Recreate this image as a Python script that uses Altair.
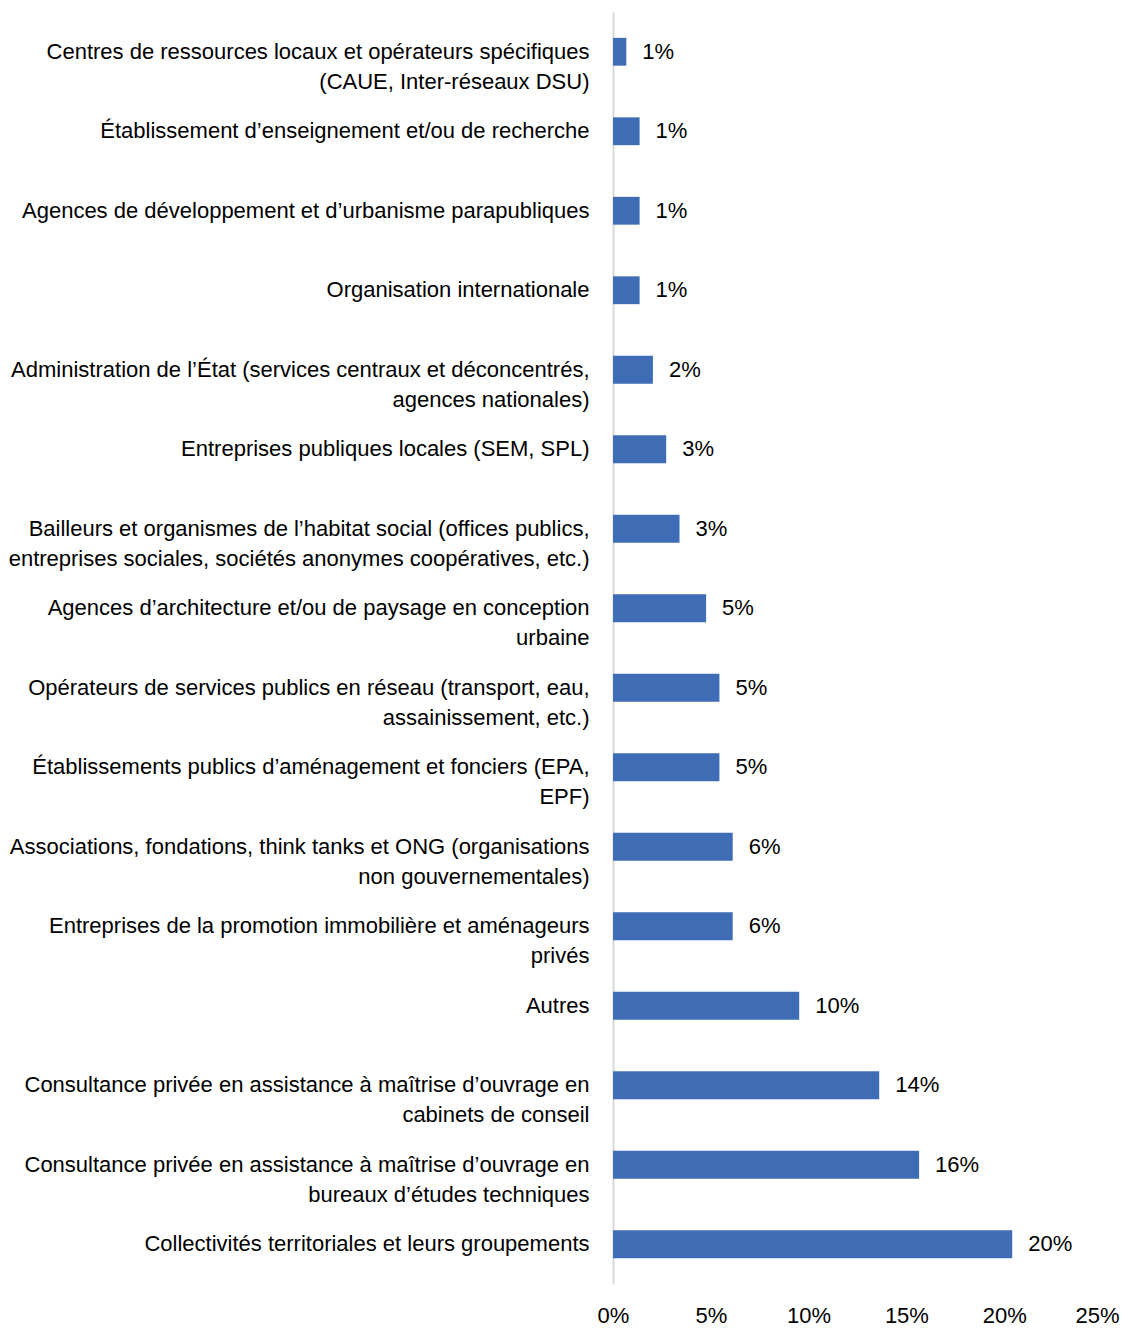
import altair as alt
import pandas as pd

categories = [
    ["Centres de ressources locaux et opérateurs spécifiques", "(CAUE, Inter-réseaux DSU)"],
    ["Établissement d’enseignement et/ou de recherche"],
    ["Agences de développement et d’urbanisme parapubliques"],
    ["Organisation internationale"],
    ["Administration de l’État (services centraux et déconcentrés,", "agences nationales)"],
    ["Entreprises publiques locales (SEM, SPL)"],
    ["Bailleurs et organismes de l’habitat social (offices publics,", "entreprises sociales, sociétés anonymes coopératives, etc.)"],
    ["Agences d’architecture et/ou de paysage en conception", "urbaine"],
    ["Opérateurs de services publics en réseau (transport, eau,", "assainissement, etc.)"],
    ["Établissements publics d’aménagement et fonciers (EPA,", "EPF)"],
    ["Associations, fondations, think tanks et ONG (organisations", "non gouvernementales)"],
    ["Entreprises de la promotion immobilière et aménageurs", "privés"],
    ["Autres"],
    ["Consultance privée en assistance à maîtrise d’ouvrage en", "cabinets de conseil"],
    ["Consultance privée en assistance à maîtrise d’ouvrage en", "bureaux d’études techniques"],
    ["Collectivités territoriales et leurs groupements"],
]
values = [0.0068, 0.0136, 0.0136, 0.0136, 0.0204, 0.0272, 0.0340, 0.0476,
          0.0544, 0.0544, 0.0612, 0.0612, 0.0952, 0.1361, 0.1565, 0.2041]
x_ticks = [0, 0.05, 0.10, 0.15, 0.20, 0.25]

cat_keys = ["|".join(c) for c in categories]
df = pd.DataFrame({"cat": cat_keys, "value": values})

FONT = "Liberation Sans Narrow, Arial Narrow, Liberation Sans, Arial, sans-serif"
FS = 22
BAR = "#3E6DB6"

y_enc = alt.Y(
    "cat:N", sort=cat_keys, title=None,
    scale=alt.Scale(paddingInner=0.65, paddingOuter=0.325),
    axis=alt.Axis(
        labelExpr="split(datum.label, '|')",
        labelFont=FONT, labelFontSize=FS, labelColor="#000000",
        labelLineHeight=30, labelPadding=24, labelLimit=0,
        ticks=False, domain=True, domainColor="#D9D9D9", domainWidth=2,
        grid=False,
    ),
)
x_enc = alt.X(
    "value:Q", title=None,
    scale=alt.Scale(domain=[0, 0.25], nice=False),
    axis=alt.Axis(
        values=x_ticks, format=".0%", labelFont=FONT, labelFontSize=FS,
        labelColor="#000000", labelPadding=21, labelFlush=False,
        labelOffset={"condition": {"test": "datum.value >= 0.249", "value": -5}, "value": 0},
        ticks=False, domain=False, grid=False,
    ),
)

bars = alt.Chart(df).mark_bar(color=BAR).encode(y=y_enc, x=x_enc)
labels = alt.Chart(df).mark_text(
    align="left", baseline="middle", dx=16, font=FONT, fontSize=FS, color="#000000"
).encode(
    y=alt.Y("cat:N", sort=cat_keys),
    x=alt.X("value:Q"),
    text=alt.Text("value:Q", format=".0%"),
)

chart = (bars + labels).properties(
    width=1112, height=1272,
    padding={"left": 0, "top": 4, "right": 0, "bottom": 0},
    autosize=alt.AutoSizeParams(type="fit-x", contains="padding"),
).configure(background="#ffffff").configure_view(stroke=None)

chart.save("out.html", embed_options={"renderer": "svg", "actions": False})
